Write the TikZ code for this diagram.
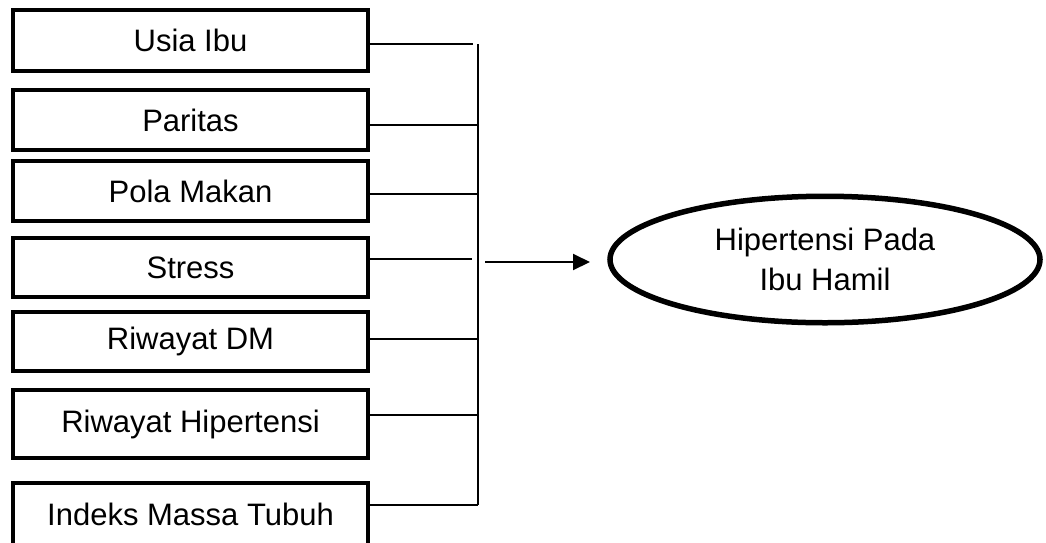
\documentclass[tikz,border=0pt]{standalone}
\usepackage{fontspec}
\setmainfont{Liberation Sans}
\usetikzlibrary{arrows.meta,shapes.geometric}
\begin{document}
\begin{tikzpicture}[x=1pt,y=-1pt,
  factor/.style={draw,line width=4pt,rectangle,minimum width=355pt,inner sep=0pt,
    font=\fontsize{31}{40}\selectfont},
  link/.style={line width=2pt},
  outcome/.style={draw,ellipse,line width=5.5pt,minimum width=430pt,minimum height=126.5pt,
    inner sep=0pt,align=center,font=\fontsize{31}{40}\selectfont}]
\useasboundingbox (0,0) rectangle (1046,542);
\node[factor,minimum height=61pt] (usia) at (190.5,40.5) {Usia Ibu};
\node[factor,minimum height=60pt] (paritas) at (190.5,120) {Paritas};
\node[factor,minimum height=60pt] (pola) at (190.5,191) {Pola Makan};
\node[factor,minimum height=59pt] (stress) at (190.5,267.5) {Stress};
\node[factor,minimum height=59pt] (dm) at (190.5,341.5) {Riwayat DM};
\node[factor,minimum height=68pt] (hip) at (190.5,424) {Riwayat Hipertensi};
\node[factor,minimum height=62pt] (imt) at (190.5,514) {Indeks Massa Tubuh};
\node[outcome] (out) at (825,259.5) {Hipertensi Pada\\Ibu Hamil};
\coordinate (b1) at (473,44);
\coordinate (b2) at (478,125);
\coordinate (b3) at (478,194);
\coordinate (b4) at (472,259);
\coordinate (b5) at (478,339);
\coordinate (b6) at (478,415);
\coordinate (b7) at (478,505);
\coordinate (vtop) at (478,44);
\coordinate (a0) at (485,262);
\coordinate (a1) at (590,262);
\draw[link] (usia.east |- b1) -- (b1);
\draw[link] (paritas.east |- b2) -- (b2);
\draw[link] (pola.east |- b3) -- (b3);
\draw[link] (stress.east |- b4) -- (b4);
\draw[link] (dm.east |- b5) -- (b5);
\draw[link] (hip.east |- b6) -- (b6);
\draw[link] (imt.east |- b7) -- (b7);
\draw[link] (vtop) -- (b7);
\draw[link,-{Triangle[length=17pt,width=16pt]}] (a0) -- (a1);
\end{tikzpicture}
\end{document}
